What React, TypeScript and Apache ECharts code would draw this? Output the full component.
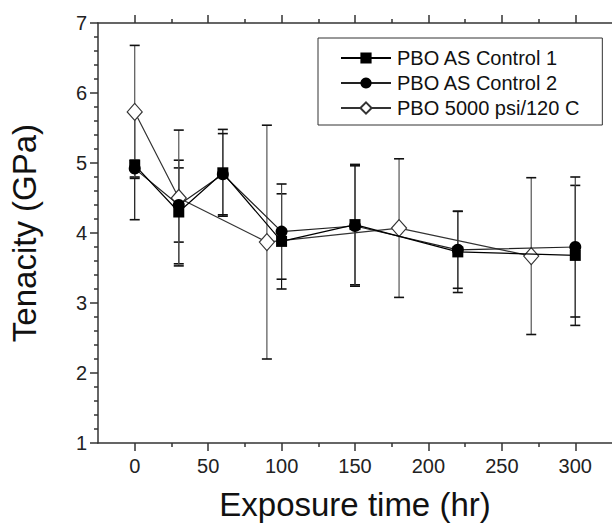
import React, { useEffect, useRef } from "react";
import * as echarts from "echarts";

const hoursControl = [0, 30, 60, 100, 150, 220, 300];
const control1 = [4.97, 4.3, 4.86, 3.88, 4.12, 3.73, 3.68];
const control1Err = [0.78, 0.74, 0.62, 0.68, 0.86, 0.58, 1.0];
const control2 = [4.92, 4.4, 4.84, 4.02, 4.1, 3.76, 3.8];
const control2Err = [0.12, 0.53, 0.58, 0.68, 0.86, 0.55, 1.0];
const hoursTreated = [0, 30, 90, 180, 270];
const treated = [5.73, 4.5, 3.87, 4.07, 3.67];
const treatedErr = [0.95, 0.97, 1.67, 0.99, 1.12];

const xMajorTicks = [0, 50, 100, 150, 200, 250, 300];
const xMinorTicks = [25, 75, 125, 175, 225, 275];
const seriesNames = ["PBO AS Control 1", "PBO AS Control 2", "PBO 5000 psi/120 C"];

const FONT = "'Liberation Sans', Arial, Helvetica, sans-serif";
const AXIS_COLOR = "#333";

function zip(xs: number[], ys: number[]) {
  return xs.map((x, i) => [x, ys[i]]);
}
function zip3(xs: number[], ys: number[], es: number[]) {
  return xs.map((x, i) => [x, ys[i], es[i]]);
}

function errorBars(name: string, data: number[][], color: string) {
  return {
    type: "custom",
    name: name + " err",
    xAxisIndex: 0,
    yAxisIndex: 0,
    z: 1,
    silent: true,
    data,
    renderItem: (params: any, api: any) => {
      const x = api.value(0);
      const y = api.value(1);
      const e = api.value(2);
      const hi = api.coord([x, y + e]);
      const lo = api.coord([x, y - e]);
      const w = 5;
      return {
        type: "group",
        children: [
          { type: "line", shape: { x1: hi[0], y1: hi[1], x2: lo[0], y2: lo[1] }, style: { stroke: color, lineWidth: 1.2 } },
          { type: "line", shape: { x1: hi[0] - w, y1: hi[1], x2: hi[0] + w, y2: hi[1] }, style: { stroke: "#111", lineWidth: 1.6 } },
          { type: "line", shape: { x1: lo[0] - w, y1: lo[1], x2: lo[0] + w, y2: lo[1] }, style: { stroke: "#111", lineWidth: 1.6 } },
        ],
      };
    },
  };
}

export default function App() {
  const ref = useRef<HTMLDivElement>(null);
  useEffect(() => {
    if (!ref.current) return;
    const chart = echarts.init(ref.current, null, { renderer: "svg" });
    const gridLeft = 98;
    const gridTop = 23;
    const gridWidth = 518;
    const gridHeight = 420;
    const xBase = {
      type: "value",
      min: -25,
      max: 325,
      gridIndex: 0,
      splitLine: { show: false },
      axisLine: { show: true, onZero: false, lineStyle: { color: AXIS_COLOR, width: 1.5 } },
    };
    chart.setOption({
      animation: false,
      backgroundColor: "#fff",
      textStyle: { fontFamily: FONT },
      grid: { left: gridLeft, top: gridTop, width: gridWidth, height: gridHeight, containLabel: false },
      legend: {
        data: seriesNames,
        orient: "vertical",
        left: 318,
        top: 38,
        padding: [10, 23, 7, 22],
        itemGap: 5,
        itemWidth: 50,
        itemHeight: 14,
        borderColor: "#333",
        borderWidth: 1,
        backgroundColor: "#fff",
        textStyle: { fontSize: 20, color: "#111", fontFamily: FONT, padding: [0, 0, 0, 1] },
      },
      xAxis: [
        {
          ...xBase,
          position: "bottom",
          name: "Exposure time (hr)",
          nameLocation: "middle",
          nameGap: 45,
          nameTextStyle: { fontSize: 33, color: "#111", fontFamily: FONT },
          axisTick: { show: true, inside: false, length: 8, customValues: xMajorTicks, lineStyle: { color: AXIS_COLOR, width: 1.5 } },
          axisLabel: { show: true, customValues: xMajorTicks, fontSize: 20, color: "#222", margin: 13, fontFamily: FONT },
        },
        {
          ...xBase,
          position: "bottom",
          axisLine: { show: false },
          axisTick: { show: true, length: 4, customValues: xMinorTicks, lineStyle: { color: AXIS_COLOR, width: 1.5 } },
          axisLabel: { show: false },
        },
        {
          ...xBase,
          position: "top",
          axisTick: { show: true, length: 8, customValues: xMajorTicks, lineStyle: { color: AXIS_COLOR, width: 1.5 } },
          axisLabel: { show: false },
        },
        {
          ...xBase,
          position: "top",
          axisLine: { show: false },
          axisTick: { show: true, length: 4, customValues: xMinorTicks, lineStyle: { color: AXIS_COLOR, width: 1.5 } },
          axisLabel: { show: false },
        },
      ],
      yAxis: [
        {
          type: "value",
          min: 1,
          max: 7,
          interval: 1,
          position: "left",
          name: "Tenacity (GPa)",
          nameLocation: "middle",
          nameGap: 57,
          nameTextStyle: { fontSize: 33, color: "#111", fontFamily: FONT },
          splitLine: { show: false },
          axisLine: { show: true, onZero: false, lineStyle: { color: AXIS_COLOR, width: 1.5 } },
          axisTick: { show: true, length: 8, lineStyle: { color: AXIS_COLOR, width: 1.5 } },
          minorTick: { show: true, splitNumber: 5, length: 4, lineStyle: { color: AXIS_COLOR, width: 1.5 } },
          axisLabel: { fontSize: 20, color: "#222", margin: 11, fontFamily: FONT },
        },
      ],
      series: [
        errorBars(seriesNames[0], zip3(hoursControl, control1, control1Err), "#111"),
        errorBars(seriesNames[1], zip3(hoursControl, control2, control2Err), "#444"),
        errorBars(seriesNames[2], zip3(hoursTreated, treated, treatedErr), "#555"),
        {
          type: "line",
          name: seriesNames[2],
          data: zip(hoursTreated, treated),
          z: 3,
          symbol: "diamond",
          symbolSize: [15, 17],
          lineStyle: { color: "#333", width: 1.2 },
          itemStyle: { color: "#fff", borderColor: "#333", borderWidth: 1.2 },
        },
        {
          type: "line",
          name: seriesNames[1],
          data: zip(hoursControl, control2),
          z: 4,
          symbol: "circle",
          symbolSize: 12,
          lineStyle: { color: "#222", width: 1.2 },
          itemStyle: { color: "#000", borderColor: "#000", borderWidth: 0 },
        },
        {
          type: "line",
          name: seriesNames[0],
          data: zip(hoursControl, control1),
          z: 5,
          symbol: "rect",
          symbolSize: 11,
          lineStyle: { color: "#000", width: 1.2 },
          itemStyle: { color: "#000", borderColor: "#000", borderWidth: 0 },
        },
      ],
    });
    return () => chart.dispose();
  }, []);
  return <div ref={ref} style={{ position: "absolute", left: 0, top: 0, width: 612, height: 528 }} />;
}
